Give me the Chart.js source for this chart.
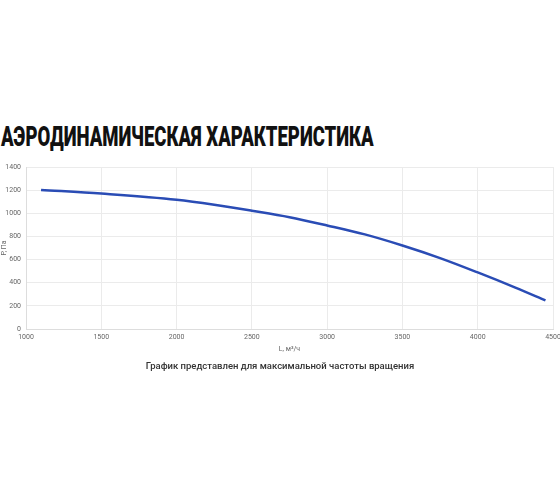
<!DOCTYPE html>
<html>
<head>
<meta charset="utf-8">
<script src="https://cdn.jsdelivr.net/npm/chart.js@4"></script>
<style>
  html, body { margin: 0; padding: 0; background: #fff; }
  #wrap { position: relative; width: 560px; height: 504px; overflow: hidden; }
  #titulo {
    position: absolute; left: 1px; top: 121px;
    font-family: Roboto, sans-serif; font-weight: 900; font-size: 27px;
    color: #111; white-space: nowrap; transform-origin: 0 0; line-height: 32px;
  }
  #nota {
    position: absolute; left: 0; width: 560px; top: 360px; text-align: center;
    font-family: Roboto, sans-serif; font-weight: 500; font-size: 9.5px; color: #333;
  }
  #grafico { position: absolute; left: 0; top: 0; }
</style>
</head>
<body>
<div id="wrap">
  <div id="titulo">АЭРОДИНАМИЧЕСКАЯ ХАРАКТЕРИСТИКА</div>
  <canvas id="grafico" width="560" height="504"></canvas>
  <div id="nota">График представлен для максимальной частоты вращения</div>
</div>
<script>
// Расход воздуха L, м³/ч и давление P, Па
const vazao = [1100, 1500, 2000, 2250, 2500, 2750, 3000, 3250, 3500, 3750, 4000, 4250, 4450];
const pressao = [1202, 1170, 1117, 1074, 1022, 966, 895, 818, 722, 613, 489, 358, 247];
const xTicks = [1000, 1500, 2000, 2500, 3000, 3500, 4000, 4500];
const yTicks = [0, 200, 400, 600, 800, 1000, 1200, 1400];

// Título estreito: ajusta largura
const titulo = document.getElementById('titulo');
const largura = titulo.scrollWidth;
titulo.style.transform = 'scaleX(' + (373 / largura) + ')';

const pontos = vazao.map((x, i) => ({ x: x, y: pressao[i] }));

new Chart(document.getElementById('grafico'), {
    type: 'line',
    data: {
        datasets: [{
            label: 'P',
            data: pontos,
            borderColor: '#2a4cb5',
            borderWidth: 2.5,
            pointRadius: 0,
            cubicInterpolationMode: 'monotone',
            fill: false
        }]
    },
    options: {
        responsive: false,
        animation: false,
        layout: { padding: { top: 167, bottom: 151, left: 0, right: 7 } },
        plugins: { legend: { display: false }, tooltip: { enabled: false } },
        scales: {
            x: {
                type: 'linear',
                min: 1000, max: 4500,
                afterBuildTicks: s => { s.ticks = xTicks.map(v => ({ value: v })); },
                afterFit: s => { s.height = 24; s.paddingLeft = 0; s.paddingRight = 0; },
                grid: { color: '#ebebeb', drawTicks: false },
                border: { color: '#ddd' },
                ticks: { color: '#666', font: { family: 'Roboto', size: 7 }, padding: 4, maxRotation: 0, callback: v => String(v) },
                title: { display: true, text: 'L, м³/ч', color: '#666', font: { family: 'Roboto', size: 7 }, padding: { top: 2, bottom: 0 } }
            },
            y: {
                min: 0, max: 1400,
                afterBuildTicks: s => { s.ticks = yTicks.map(v => ({ value: v })); },
                afterFit: s => { s.width = 26; s.paddingTop = 0; s.paddingBottom = 0; },
                grid: { color: '#ebebeb', drawTicks: false },
                border: { color: '#ddd' },
                ticks: { color: '#666', font: { family: 'Roboto', size: 7 }, padding: 5, callback: v => String(v) },
                title: { display: true, text: 'P, Па', color: '#666', font: { family: 'Roboto', size: 7 }, padding: 0 }
            }
        }
    }
});
</script>
</body>
</html>
